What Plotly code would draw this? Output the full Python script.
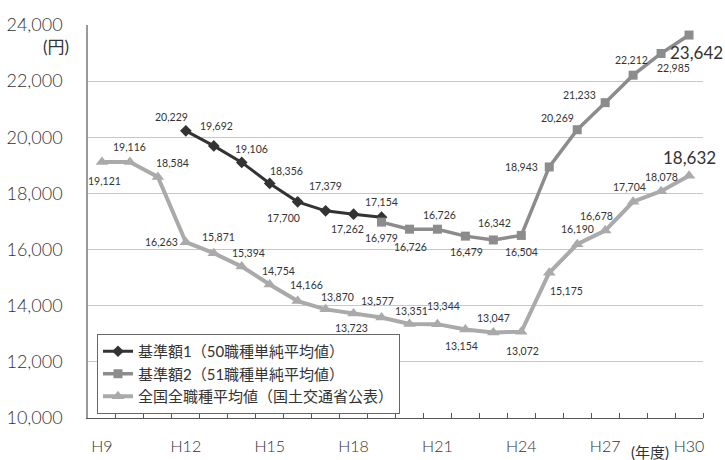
import plotly.graph_objects as go

# 年度
years = ["H9", "H10", "H11", "H12", "H13", "H14", "H15", "H16", "H17", "H18", "H19",
         "H20", "H21", "H22", "H23", "H24", "H25", "H26", "H27", "H28", "H29", "H30"]
tick_years = ["H9", "H12", "H15", "H18", "H21", "H24", "H27", "H30"]

# 基準額1（50職種単純平均値）: H12〜H19
kijun1 = [None, None, None, 20229, 19692, 19106, 18356, 17700, 17379, 17262, 17154,
          None, None, None, None, None, None, None, None, None, None, None]
# 基準額2（51職種単純平均値）: H19〜H30
kijun2 = [None, None, None, None, None, None, None, None, None, None, 16979,
          16726, 16726, 16479, 16342, 16504, 18943, 20269, 21233, 22212, 22985, 23642]
# 全国全職種平均値（国土交通省公表）
zenkoku = [19121, 19116, 18584, 16263, 15871, 15394, 14754, 14166, 13870, 13723, 13577,
           13351, 13344, 13154, 13047, 13072, 15175, 16190, 16678, 17704, 18078, 18632]

names = ["基準額1（50職種単純平均値）", "基準額2（51職種単純平均値）", "全国全職種平均値（国土交通省公表）"]

# label offsets in pixels (dx right, dy down) for each point's value label
off1 = [None, None, None, (-14, -14), (3, -20), (10, -13), (17, -12), (-14, 16), (0, -25),
        (-6, 15), (0, -15)] + [None] * 11
off2 = [None] * 10 + [(0, 16), (1, 18), (2, -14), (1, 16), (1, -17), (0, 17), (-28, 0),
                      (-20, -12), (-26, -8), (-2, -15), (12, 15), (7, 17)]
off3 = [(3, 19), (0, -15), (15, -14), (-24, 0), (5, -16), (7, -14), (9, -14), (9, -16),
        (12, -12), (-2, 15), (-4, -17), (2, -13), (6, -18), (-4, 17), (0, -14), (1, 19),
        (17, 18), (0, -15), (-9, -15), (-4, -15), (0, -14), (0, -18)]

FONT = "Lato, 'Noto Sans CJK JP', sans-serif"
xi = list(range(len(years)))

fig = go.Figure()

fig.add_trace(go.Scatter(
    x=xi, y=zenkoku, name=names[2], mode="lines+markers", legendrank=3,
    line=dict(color="#aaaaaa", width=4),
    marker=dict(symbol="triangle-up", size=11, color="#aaaaaa"),
))
fig.add_trace(go.Scatter(
    x=xi, y=kijun1, name=names[0], mode="lines+markers", legendrank=1,
    line=dict(color="#333333", width=3),
    marker=dict(symbol="diamond", size=9, color="#333333"),
))
fig.add_trace(go.Scatter(
    x=xi, y=kijun2, name=names[1], mode="lines+markers", legendrank=2,
    line=dict(color="#8c8c8c", width=3.5),
    marker=dict(symbol="square", size=9, color="#8c8c8c"),
))

# plot area in pixels
L, R, T, B = 88, 22, 25, 42
W, H = 725, 460
pw, ph = W - L - R, H - T - B

annotations = []
last = len(years) - 1
for series, offs in ((kijun1, off1), (kijun2, off2), (zenkoku, off3)):
    for i, (v, o) in enumerate(zip(series, offs)):
        if v is None:
            continue
        big = i == last
        annotations.append(dict(
            x=i, y=v, xref="x", yref="y", text=f"{v:,}", showarrow=False,
            xanchor="center", yanchor="middle", xshift=o[0], yshift=-o[1],
            font=dict(family=FONT, size=17 if big else 10.5, color="#333333"),
        ))

# unit captions, positioned in pixels and converted to paper coordinates
for text, px, py, size in (("(円)", 56, 47, 17), ("(年度)", 650, 452, 15)):
    annotations.append(dict(
        x=(px - L) / pw, y=(H - B - py) / ph, xref="paper", yref="paper",
        text=text, showarrow=False, xanchor="center", yanchor="middle",
        font=dict(family=FONT, size=size, color="#333333"),
    ))

fig.update_layout(
    width=W, height=H,
    margin=dict(l=L, r=R, t=T, b=B, autoexpand=False),
    paper_bgcolor="white", plot_bgcolor="white",
    font=dict(family=FONT, color="#333333"),
    annotations=annotations,
    legend=dict(
        x=(97 - L) / pw, y=(H - B - 334) / ph, xanchor="left", yanchor="top",
        bgcolor="white", bordercolor="#666666", borderwidth=1,
        font=dict(family=FONT, size=15, color="#333333"),
        itemwidth=30, tracegroupgap=0,
    ),
    showlegend=True,
)

fig.update_xaxes(
    range=[-0.5, len(years) - 0.5], automargin=False,
    tickvals=[years.index(t) for t in tick_years], ticktext=tick_years,
    ticks="", showgrid=False, zeroline=False,
    showline=True, linecolor="#555555", linewidth=1.2,
    tickfont=dict(family=FONT, size=16, color="#333333", weight=300),
    ticklabelstandoff=14,
    minor=dict(tickvals=[i + 0.5 for i in xi], ticks="inside", ticklen=5,
               tickcolor="#555555", showgrid=False),
)
fig.update_yaxes(
    range=[10000, 24000], dtick=2000, tickformat=",d", automargin=False,
    showgrid=True, gridcolor="#c8c8c8", gridwidth=1, zeroline=False,
    showline=True, linecolor="#999999", linewidth=1.5,
    ticks="", tickfont=dict(family=FONT, size=18, color="#333333", weight=300),
    ticklabelstandoff=20,
)

fig.write_html("out.html")
